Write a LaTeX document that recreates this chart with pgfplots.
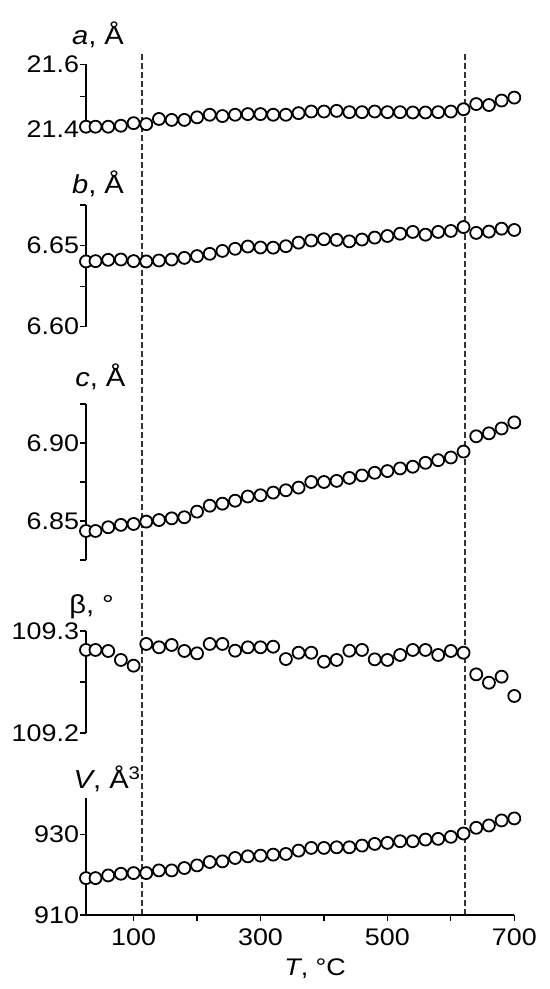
\documentclass[border=0pt]{standalone}
\usepackage{fontspec}
\setmainfont{Liberation Sans}[FakeStretch=1.12]
\usepackage{pgfplots}
\usepackage{pgfplotstable}
\pgfplotsset{compat=1.18}

% lattice parameters vs temperature
\pgfplotstableread{
T    a       b       c       beta      V
25   21.407  6.6402  6.8436  109.2814  919.17
40   21.407  6.6404  6.8436  109.2814  919.17
60   21.407  6.6412  6.8460  109.2804  919.83
80   21.410  6.6414  6.8475  109.2716  920.25
100  21.418  6.6404  6.8481  109.2660  920.42
120  21.415  6.6402  6.8496  109.2873  920.42
140  21.431  6.6408  6.8506  109.2840  921.08
160  21.428  6.6414  6.8517  109.2863  921.08
180  21.428  6.6424  6.8524  109.2804  921.67
200  21.436  6.6435  6.8560  109.2781  922.33
220  21.444  6.6449  6.8598  109.2873  923.17
240  21.440  6.6467  6.8611  109.2873  923.33
260  21.444  6.6480  6.8630  109.2807  924.17
280  21.446  6.6494  6.8657  109.2840  924.58
300  21.446  6.6488  6.8665  109.2840  924.75
320  21.444  6.6487  6.8682  109.2846  925.00
340  21.444  6.6496  6.8697  109.2725  925.17
360  21.449  6.6518  6.8714  109.2787  926.00
380  21.454  6.6531  6.8750  109.2787  926.67
400  21.454  6.6539  6.8750  109.2699  926.67
420  21.456  6.6535  6.8757  109.2716  926.83
440  21.452  6.6526  6.8776  109.2807  926.83
460  21.452  6.6537  6.8792  109.2814  927.25
480  21.454  6.6549  6.8809  109.2722  927.67
500  21.452  6.6559  6.8820  109.2716  927.92
520  21.452  6.6573  6.8837  109.2765  928.33
540  21.451  6.6584  6.8848  109.2814  928.33
560  21.451  6.6567  6.8873  109.2814  928.75
580  21.452  6.6584  6.8890  109.2765  928.92
600  21.454  6.6590  6.8907  109.2804  929.42
620  21.461  6.6614  6.8945  109.2787  930.25
640  21.477  6.6578  6.9043  109.2575  931.67
660  21.474  6.6586  6.9062  109.2493  932.25
680  21.488  6.6604  6.9093  109.2552  933.50
700  21.497  6.6596  6.9132  109.2363  934.00
}\cell

\pgfplotsset{
  panel/.style={
    scale only axis, width=214.15pt, xmin=25, xmax=700,
    anchor=south west, clip=false,
    axis y line*=left,
    axis line style={-, line width=0.6pt, black},
    tick align=outside, major tick length=3pt,
    tick style={line width=0.6pt, black},
    yticklabel style={font=\fontsize{12}{14}\selectfont, inner xsep=0.3pt},
  },
  upper/.style={panel, axis x line=none},
  dots/.style={only marks, mark=*, mark size=3pt,
    mark options={fill=white, draw=black, line width=0.9pt}},
  boundary/.style={black!80, line width=0.75pt, dash pattern=on 2.8pt off 1.7pt},
}
\tikzset{lab/.style={anchor=base west, font=\fontsize{13}{15}\selectfont}}

\begin{document}
\begin{tikzpicture}
\path[use as bounding box] (0,0) rectangle (275pt,494.5pt);

% phase boundaries
\begin{axis}[scale only axis, width=214.15pt, height=431.5pt, at={(43pt,37pt)},
  anchor=south west, xmin=25, xmax=700, ymin=0, ymax=1, hide axis]
\addplot[boundary] coordinates {(113,0)(113,1)};
\addplot[boundary] coordinates {(622,0)(622,1)};
\end{axis}

% a
\begin{axis}[upper, at={(43pt,430pt)}, height=32.35pt,
  ymin=21.4, ymax=21.6, ytick={21.4,21.5,21.6}, yticklabels={21.4,,21.6}]
\addplot[dots] table[x=T, y=a]{\cell};
\node[lab] at (rel axis cs:0,1) [xshift=-10.5pt, yshift=10.1pt] {\textit{a}, Å};
\end{axis}

% b
\begin{axis}[upper, at={(43pt,331.15pt)}, height=60.85pt,
  ymin=6.6, ymax=6.675, ytick={6.6,6.625,6.65,6.675}, yticklabels={6.60,,6.65,}]
\addplot[dots] table[x=T, y=b]{\cell};
\node[lab] at (rel axis cs:0,1) [xshift=-10.5pt, yshift=5.9pt] {\textit{b}, Å};
\end{axis}

% c
\begin{axis}[upper, at={(43pt,214.5pt)}, height=78pt,
  ymin=6.825, ymax=6.925, ytick={6.825,6.85,6.875,6.9,6.925}, yticklabels={,6.85,,6.90,}]
\addplot[dots] table[x=T, y=c]{\cell};
\node[lab] at (rel axis cs:0,1) [xshift=-8.9pt, yshift=8.7pt] {\textit{c}, Å};
\end{axis}

% beta
\begin{axis}[upper, at={(43pt,128pt)}, height=51pt,
  ymin=109.2, ymax=109.3, ytick={109.2,109.25,109.3}, yticklabels={109.2,,109.3}]
\addplot[dots] table[x=T, y=beta]{\cell};
\node[lab] at (rel axis cs:0,1) [xshift=-11.9pt, yshift=8.5pt] {β, °};
\end{axis}

% V
\begin{axis}[panel, at={(43pt,37pt)}, height=58.35pt,
  ymin=910, ymax=939, ytick={910,920,930}, yticklabels={910,,930},
  axis x line*=bottom,
  xtick={100,200,300,400,500,600,700}, xticklabels={100,,300,,500,,700},
  xticklabel style={font=\fontsize{12}{14}\selectfont, inner ysep=3.5pt}]
\addplot[dots] table[x=T, y=V]{\cell};
\node[lab] at (rel axis cs:0,1) [xshift=-9.7pt, yshift=5pt] {\textit{V}, Å\textsuperscript{3}};
\node[anchor=base, font=\fontsize{12}{14}\selectfont] at (rel axis cs:0.5,0) [xshift=7.5pt, yshift=-30.5pt] {\textit{T}, °C};
\end{axis}
\end{tikzpicture}
\end{document}
